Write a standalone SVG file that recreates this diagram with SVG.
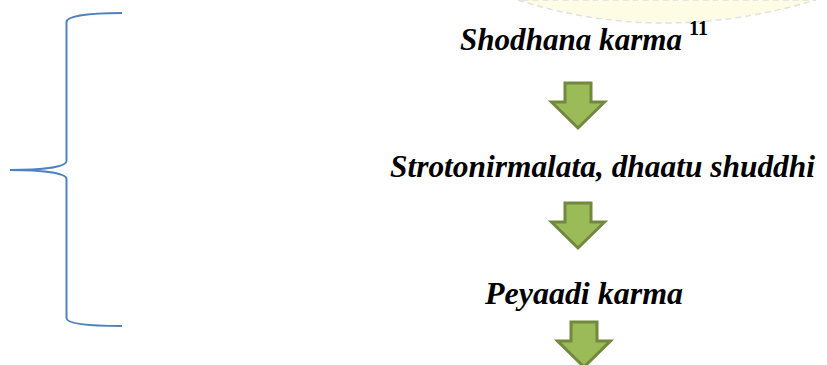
<svg xmlns="http://www.w3.org/2000/svg" width="827" height="365" viewBox="0 0 827 365">
<style>
.t{font-family:"Liberation Serif","Times New Roman",serif;font-weight:bold;font-style:italic;font-size:32px;fill:#000}
.sup{font-family:"Liberation Serif","Times New Roman",serif;font-weight:bold;font-size:20px;fill:#000}
.arr{fill:#9BBB59;stroke:#71893F;stroke-width:3;stroke-linejoin:miter}
.brace{fill:none;stroke:#4F81BD;stroke-width:2}
</style>
<defs>
<path id="down" d="M-13,0 H13 V19 H26.5 L0,45 L-26.5,19 H-13 Z"/>
</defs>
<path d="M518,0 Q662,46 816,0 Z" fill="#FFFCE6" stroke="#E0E0E0" stroke-width="1.5" stroke-dasharray="6 4"/>
<g id="brace">
<path class="brace" d="M122,13 C88,13 66.5,16 66.5,22 L66.5,161 C66.5,167 42,170 10,170 C42,170 66.5,173 66.5,179 L66.5,318 C66.5,324 88,326 122,326"/>
</g>
<g id="n1"><text class="t" x="460" y="50" textLength="222" lengthAdjust="spacingAndGlyphs">Shodhana karma</text><text class="sup" x="689" y="35">11</text></g>
<g id="n2"><text class="t" x="390" y="177" textLength="425" lengthAdjust="spacingAndGlyphs">Strotonirmalata, dhaatu shuddhi</text></g>
<g id="n3"><text class="t" x="485" y="304" textLength="198" lengthAdjust="spacingAndGlyphs">Peyaadi karma</text></g>
<g id="connectors">
<use href="#down" class="arr" x="578" y="83"/>
<use href="#down" class="arr" x="578" y="203"/>
<use href="#down" class="arr" x="584" y="322"/>
</g>
</svg>
